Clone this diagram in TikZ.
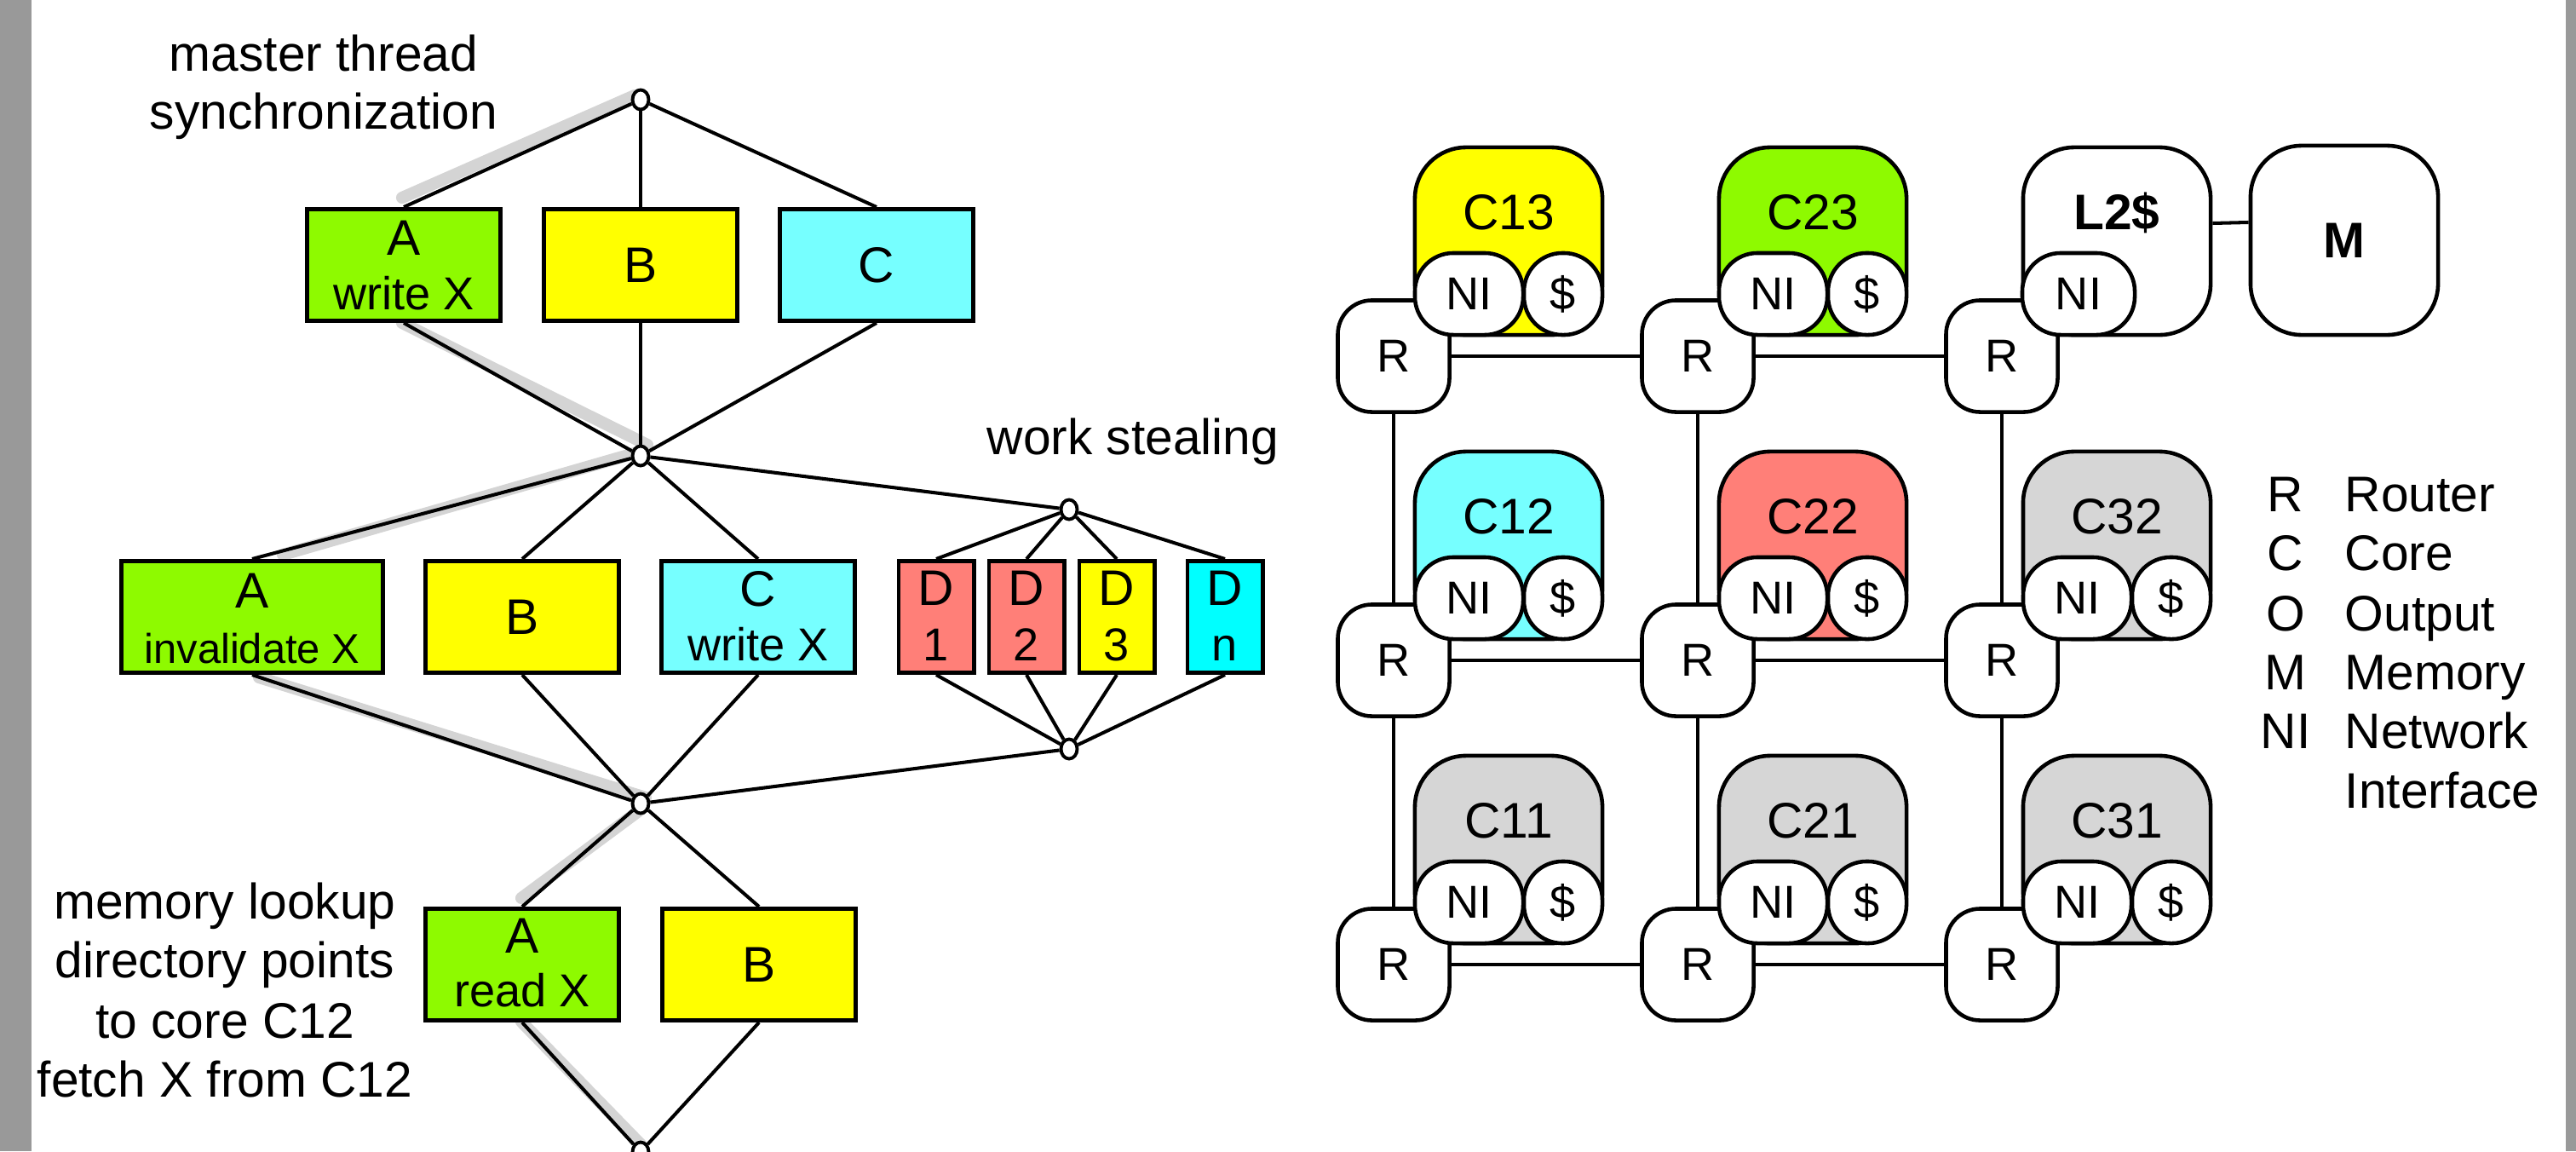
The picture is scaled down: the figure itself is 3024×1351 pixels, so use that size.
\documentclass[tikz,border=0pt]{standalone}
\usepackage{fontspec}
\setmainfont{Liberation Sans}
\usetikzlibrary{calc,shapes.geometric}
\pgfdeclarelayer{bg}
\pgfsetlayers{bg,main}
\definecolor{cgreen}{RGB}{142,250,0}
\definecolor{cyellow}{RGB}{255,255,0}
\definecolor{ccyan}{RGB}{118,255,255}
\definecolor{csalmon}{RGB}{255,127,120}
\definecolor{caqua}{RGB}{0,255,255}
\definecolor{cgray}{RGB}{214,214,214}
\definecolor{cband}{RGB}{153,153,153}
\definecolor{cshadow}{RGB}{212,212,212}
\newcommand\fbig{\fontsize{16.7pt}{20pt}\selectfont}
\newcommand\fmid{\fontsize{15.4pt}{18pt}\selectfont}
\newcommand\fsml{\fontsize{13.9pt}{17pt}\selectfont}
\begin{document}
\begin{tikzpicture}[x=0.01cm,y=-0.01cm,
  tbox/.style={draw, line width=1.4pt, minimum width=2.27cm, minimum height=1.31cm, inner sep=0pt, font=\fbig},
  dbox/.style={tbox, minimum width=0.88cm},
  junc/.style={ellipse, draw, fill=white, line width=1.1pt, minimum width=0.19cm, minimum height=0.23cm, inner sep=0pt},
  conn/.style={line width=1.15pt},
  hilite/.style={line width=4pt, draw=cshadow, line cap=round},
  txt/.style={anchor=base, inner sep=0pt, font=\fbig},
  rtr/.style={draw, fill=white, line width=1.3pt, rounded corners=0.4cm, minimum width=1.31cm, minimum height=1.31cm, inner sep=0pt, font=\fmid},
  core/.style={draw, line width=1.3pt, rounded corners=0.6cm, minimum width=2.2cm, minimum height=2.2cm, inner sep=0pt},
  ni/.style={draw, fill=white, line width=1.3pt, rounded corners=0.45cm, minimum width=1.27cm, minimum height=0.96cm, inner sep=0pt, font=\fmid},
  cache/.style={ni, minimum width=0.92cm},
  meshline/.style={line width=1.15pt}]
\useasboundingbox (0,0) rectangle (3024,1351);

% ---------------- left: task graph ----------------
\node[txt] (t1) at (380,83) {master thread};
\node[txt] (t2) at (380,151) {synchronization};
\node[txt] (t3) at (1330,533) {work stealing};
\node[txt] (t4) at (264,1078) {memory lookup};
\node[txt] (t5) at (264,1147) {directory points};
\node[txt] (t6) at (264,1218) {to core C12};
\node[txt] (t7) at (264,1287) {fetch X from C12};

\node[junc] (n0) at (752,117) {};
\node[junc] (n1) at (752,535) {};
\node[junc] (n2) at (752,943) {};
\node[junc] (n3) at (752,1352) {};
\node[junc] (ws1) at (1255,598) {};
\node[junc] (ws2) at (1255,879) {};

% row 1
\node[tbox, fill=cgreen] (A1) at (474,311) {};
\node[txt] at ($(A1)+(0,-12)$) {A};
\node[txt, font=\fmid] at ($(A1)+(0,52)$) {write X};
\node[tbox, fill=cyellow] (B1) at (752,311) {B};
\node[tbox, fill=ccyan] (C1) at (1029,311) {C};

% row 2
\node[tbox, fill=cgreen, minimum width=3.07cm] (A2) at (296,724) {};
\node[txt] at ($(A2)+(0,-11)$) {A};
\node[txt, font=\fsml] at ($(A2)+(0,54)$) {invalidate X};
\node[tbox, fill=cyellow] (B2) at (613,724) {B};
\node[tbox, fill=ccyan] (C2) at (890,724) {};
\node[txt] at ($(C2)+(0,-13)$) {C};
\node[txt, font=\fmid] at ($(C2)+(0,51)$) {write X};
\node[dbox, fill=csalmon] (D1) at (1099,724) {};
\node[dbox, fill=csalmon] (D2) at (1205,724) {};
\node[dbox, fill=cyellow] (D3) at (1311,724) {};
\node[dbox, fill=caqua] (Dn) at (1438,724) {};
\foreach \d/\lab in {D1/1,D2/2,D3/3,Dn/n}{
  \node[txt] at ($(\d)+(0,-14)$) {D};
  \node[txt, font=\fmid] at ($(\d)+(0,51)$) {\lab};
}

% row 3
\node[tbox, fill=cgreen] (A3) at (613,1132) {};
\node[txt] at ($(A3)+(0,-14)$) {A};
\node[txt, font=\fmid] at ($(A3)+(0,49)$) {read X};
\node[tbox, fill=cyellow] (B3) at (891,1132) {B};

% connectors
\draw[conn] (n0) -- (A1.north);
\draw[conn] (n0) -- (B1.north);
\draw[conn] (n0) -- (C1.north);
\draw[conn] (A1.south) -- (n1);
\draw[conn] (B1.south) -- (n1);
\draw[conn] (C1.south) -- (n1);
\draw[conn] (n1) -- (A2.north);
\draw[conn] (n1) -- (B2.north);
\draw[conn] (n1) -- (C2.north);
\draw[conn] (n1) -- (ws1);
\foreach \d in {D1,D2,D3,Dn}{
  \draw[conn] (ws1) -- (\d.north);
  \draw[conn] (\d.south) -- (ws2);
}
\draw[conn] (A2.south) -- (n2);
\draw[conn] (B2.south) -- (n2);
\draw[conn] (C2.south) -- (n2);
\draw[conn] (ws2) -- (n2);
\draw[conn] (n2) -- (A3.north);
\draw[conn] (n2) -- (B3.north);
\draw[conn] (A3.south) -- (n3);
\draw[conn] (B3.south) -- (n3);

% ---------------- right: mesh ----------------
\foreach \i/\x in {1/1636,2/1993,3/2350}{
  \foreach \j/\y in {1/1132,2/775,3/418}{
    \node[rtr] (R\i\j) at (\x,\y) {R};
  }
}
\foreach \j in {1,2,3}{
  \draw[meshline] (R1\j) -- (R2\j);
  \draw[meshline] (R2\j) -- (R3\j);
}
\foreach \i in {1,2,3}{
  \draw[meshline] (R\i1) -- (R\i2);
  \draw[meshline] (R\i2) -- (R\i3);
}
\foreach \i/\j/\col in {1/3/cyellow,2/3/cgreen,1/2/ccyan,2/2/csalmon,3/2/cgray,1/1/cgray,2/1/cgray,3/1/cgray}{
  \node[core, fill=\col] (C\i\j) at ($(R\i\j)+(135,-135)$) {};
  \node[txt] (Ct\i\j) at ($(R\i\j)+(135,-149)$) {C\i\j};
  \node[ni] (NI\i\j) at ($(R\i\j)+(88.5,-73)$) {NI};
  \node[cache] (S\i\j) at ($(R\i\j)+(199,-73)$) {\$};
}
\node[core, fill=white] (L2) at ($(R33)+(135,-135)$) {};
\node[txt, font=\fbig\bfseries] (L2t) at ($(R33)+(135,-149)$) {L2\$};
\node[ni, minimum width=1.32cm] (NI33) at ($(R33)+(90,-73)$) {NI};
\node[core, fill=white, minimum height=2.22cm, font=\fbig\bfseries] (M) at (2752,282) {M};
\draw[meshline] ([yshift=0.21cm]L2.east) -- ([yshift=0.21cm]M.west);

% legend
\foreach \k/\w/\yy in {R/Router/600,C/Core/669,O/Output/740,M/Memory/809,NI/Network/878}{
  \node[txt] at (2683,\yy) {\k};
  \node[txt, anchor=base west] at (2752,\yy) {\w};
}
\node[txt, anchor=base west] at (2752,948) {Interface};

% ---------------- background ----------------
\begin{pgfonlayer}{bg}
\fill[white] (0,0) rectangle (3024,1351);
\fill[cband] (0,0) rectangle (37,1351);
\fill[cband] (3012,0) rectangle (3024,1351);
\draw[hilite] ($(n0)+(-7,-5)$) -- ($(A1.north)+(-2,-11)$);
\draw[hilite] ($(A1.south)+(-2,0)$) -- ($(n1)+(8,-13)$);
\draw[hilite] ($(n1)+(3,-6)$) -- ($(A2.north)+(36,-5)$);
\draw[hilite] ($(A2.south)+(8,3)$) -- ($(n2)+(6,-7)$);
\draw[hilite] ($(n2)+(3,5)$) -- ($(A3.north)+(-1,-10)$);
\draw[hilite] ($(A3.south)+(-1,-1)$) -- ($(n3)+(3,-6)$);
\end{pgfonlayer}
\end{tikzpicture}
\end{document}
